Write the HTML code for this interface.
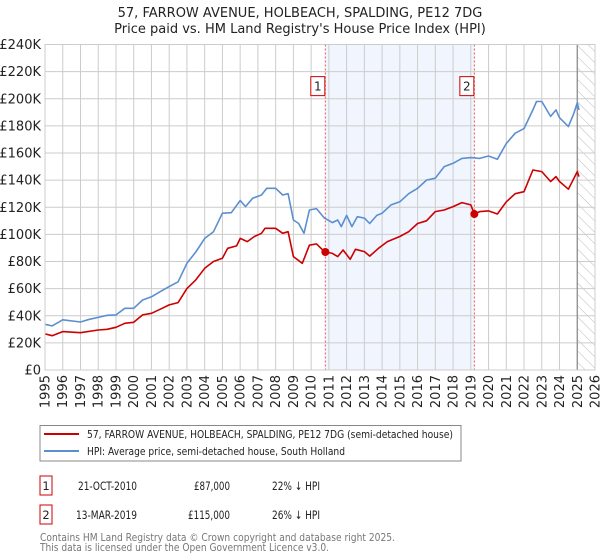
<!DOCTYPE html>
<html><head><meta charset="utf-8"><style>
body{margin:0;background:#fff;font-family:"DejaVu Sans","Liberation Sans",sans-serif;}
svg{display:block}
</style></head><body>
<svg width="600" height="560" viewBox="0 0 600 560" font-family="DejaVu Sans, Liberation Sans, sans-serif">
<g id="plot"></g>
<g id="axes"></g>
<text x="300" y="17" text-anchor="middle" font-size="13" fill="#222">57, FARROW AVENUE, HOLBEACH, SPALDING, PE12 7DG</text>
<text x="300" y="33" text-anchor="middle" font-size="13" fill="#222">Price paid vs. HM Land Registry's House Price Index (HPI)</text>
<g>
<rect x="40" y="425.5" width="421" height="35.5" fill="#fff" stroke="#888"/>
<line x1="44" y1="434" x2="79" y2="434" stroke="#cc0000" stroke-width="2"/>
<text x="87" y="438" font-size="11" fill="#222" textLength="366" lengthAdjust="spacingAndGlyphs">57, FARROW AVENUE, HOLBEACH, SPALDING, PE12 7DG (semi-detached house)</text>
<line x1="44" y1="451" x2="79" y2="451" stroke="#5b8fd0" stroke-width="2"/>
<text x="87" y="455" font-size="11" fill="#222" textLength="258" lengthAdjust="spacingAndGlyphs">HPI: Average price, semi-detached house, South Holland</text>
</g>
<g font-size="11.5" fill="#222">
<rect x="40" y="476" width="12" height="19" fill="#fff" stroke="#cc0000"/>
<text x="46" y="490" text-anchor="middle">1</text>
<text x="78" y="490" textLength="59" lengthAdjust="spacingAndGlyphs">21-OCT-2010</text>
<text x="194" y="490" textLength="36" lengthAdjust="spacingAndGlyphs">£87,000</text>
<text x="272" y="490" textLength="48" lengthAdjust="spacingAndGlyphs">22% ↓ HPI</text>
<rect x="40" y="505" width="12" height="19" fill="#fff" stroke="#cc0000"/>
<text x="46" y="519" text-anchor="middle">2</text>
<text x="76" y="519" textLength="61" lengthAdjust="spacingAndGlyphs">13-MAR-2019</text>
<text x="188" y="519" textLength="42" lengthAdjust="spacingAndGlyphs">£115,000</text>
<text x="272" y="519" textLength="48" lengthAdjust="spacingAndGlyphs">26% ↓ HPI</text>
</g>
<text x="40" y="541" font-size="11" fill="#777" textLength="355" lengthAdjust="spacingAndGlyphs">Contains HM Land Registry data © Crown copyright and database right 2025.</text>
<text x="40" y="551" font-size="11" fill="#777" textLength="289" lengthAdjust="spacingAndGlyphs">This data is licensed under the Open Government Licence v3.0.</text>
</svg>
<script>
const hpiYears=[1995.0,1995.4,1996.0,1997.0,1997.5,1998.0,1998.5,1999.0,1999.5,2000.0,2000.5,2001.0,2001.5,2002.0,2002.5,2003.0,2003.5,2004.0,2004.5,2005.0,2005.5,2006.0,2006.3,2006.7,2007.2,2007.5,2008.0,2008.4,2008.7,2009.0,2009.3,2009.6,2009.9,2010.3,2010.75,2011.2,2011.5,2011.7,2012.0,2012.3,2012.6,2013.0,2013.3,2013.7,2014.0,2014.5,2015.0,2015.5,2016.0,2016.5,2017.0,2017.5,2018.0,2018.5,2019.0,2019.5,2020.0,2020.5,2021.0,2021.5,2022.0,2022.5,2022.7,2023.0,2023.5,2023.8,2024.0,2024.5,2024.8,2025.0,2025.1];
const hpiValues=[33.7,32.5,37,35.4,37.4,38.8,40.3,40.6,45.5,45.5,51.6,54,57.8,61.5,65,78.7,87,97,102,115.6,116,125,120.5,126.6,129,134,134,129,130,110.6,108,100.8,118,119,112,108.7,110.6,105.7,114,105.7,113,112,108,114,115.6,121.7,124,130,134,140,141.4,150,152.4,156,156.6,156,157.8,155.4,167,174.6,178,191.8,198,198,187,191.8,186,179.5,189,197,191.8];
const priceYears=[1995.0,1995.4,1996.0,1997.0,1998.0,1998.5,1999.0,1999.5,2000.0,2000.5,2001.0,2001.5,2002.0,2002.5,2003.0,2003.5,2004.0,2004.5,2005.0,2005.3,2005.8,2006.0,2006.4,2006.8,2007.2,2007.4,2008.0,2008.4,2008.7,2009.0,2009.5,2009.9,2010.3,2010.75,2011.2,2011.5,2011.8,2012.2,2012.5,2013.0,2013.3,2013.8,2014.3,2015.0,2015.5,2016.0,2016.5,2017.0,2017.5,2018.0,2018.5,2019.0,2019.2,2019.5,2020.0,2020.5,2021.0,2021.5,2022.0,2022.5,2023.0,2023.5,2023.8,2024.0,2024.5,2025.0,2025.1];
const priceValues=[26.6,25.3,28.3,27.5,29.5,30,31.5,34.4,35.2,40.6,41.8,44.8,48,49.7,60,66.4,75,80,82.4,89.7,91.5,97,94.7,98.4,100.8,104.5,104.5,100.8,102,83.6,78.7,92,93,87.3,86,83.6,88.5,81.6,89,87.3,84,89.7,94.7,98.4,102,108,110,116.8,118,120.5,123.4,121.7,115,116.8,117.3,115,124,130,131.5,147.5,146.3,139,142.6,139,133.3,146.3,142.6];
const saleYears=[2010.8,2019.2];
const saleValues=[87,115];
const saleLabels=["1","2"];
const yTicks=[0,20,40,60,80,100,120,140,160,180,200,220,240];
const xTicks=[1995,1996,1997,1998,1999,2000,2001,2002,2003,2004,2005,2006,2007,2008,2009,2010,2011,2012,2013,2014,2015,2016,2017,2018,2019,2020,2021,2022,2023,2024,2025,2026];

const L=45,R=595,T=44.5,B=370,X0=1995,X1=2026,YMAX=240;
const xs=y=>L+(y-X0)/(X1-X0)*(R-L);
const ys=v=>B-v/YMAX*(B-T);
const NS="http://www.w3.org/2000/svg";
const plot=document.getElementById('plot'),axes=document.getElementById('axes');
function mk(tag,attrs,parent){const e=document.createElementNS(NS,tag);for(const k in attrs)e.setAttribute(k,attrs[k]);parent.appendChild(e);return e;}

let e=mk('rect',{x:xs(saleYears[0]),y:T,width:xs(saleYears[1])-xs(saleYears[0]),height:B-T,fill:'#eef3fc',opacity:0.8},plot);


const defs=mk('defs',{},plot);
const pat=mk('pattern',{id:'hatch',width:8,height:8,patternUnits:'userSpaceOnUse',patternTransform:'rotate(-45)'},defs);
mk('line',{x1:0,y1:0,x2:0,y2:8,stroke:'#bbb','stroke-width':1},pat);
e=mk('rect',{x:xs(2025.0),y:T,width:R-xs(2025.0),height:B-T,fill:'url(#hatch)'},plot);


yTicks.forEach(v=>{
  const g=mk('line',{x1:L,x2:R,y1:ys(v),y2:ys(v),stroke:'#ccc','stroke-width':1},plot);
  
  
  const t=mk('text',{x:L-4,y:ys(v)+4.5,'text-anchor':'end','font-size':13,fill:'#222'},axes);
  t.textContent=v===0?'£0':'£'+v+'K';
  
  
});
xTicks.forEach(y=>{
  const g=mk('line',{x1:xs(y),x2:xs(y),y1:T,y2:B,stroke:'#ccc','stroke-width':1},plot);
  
  
  const t=mk('text',{x:0,y:0,'text-anchor':'end','font-size':13,fill:'#222',transform:`translate(${xs(y)+4.5},${B+5}) rotate(-90)`},axes);
  t.textContent=y;
  
  
});
e=mk('line',{x1:xs(2025.0),x2:xs(2025.0),y1:T,y2:B,stroke:'#888','stroke-width':1.2},plot);


saleYears.forEach((y,i)=>{
  const l=mk('line',{x1:xs(y),x2:xs(y),y1:T,y2:B,stroke:'#e55','stroke-width':1,'stroke-dasharray':'2,2'},plot);
  
  
  const bx=xs(y)-11,by=ys(220)+5;
  const r=mk('rect',{x:bx-3.5,y:by,width:14,height:19,fill:'#fff',stroke:'#cc0000'},plot);
  
  
  const t=mk('text',{x:bx+3.5,y:by+14,'text-anchor':'middle','font-size':12,fill:'#222'},plot);
  t.textContent=saleLabels[i];
  
  
});
function line(xa,va,color,name){
  const p=mk('polyline',{points:xa.map((x,i)=>xs(x).toFixed(1)+','+ys(va[i]).toFixed(1)).join(' '),fill:'none',stroke:color,'stroke-width':1.6,'stroke-linejoin':'round'},plot);
  
  
}
line(hpiYears,hpiValues,'#5b8fd0','hpi-line');
line(priceYears,priceValues,'#cc0000','property-price-line');
saleYears.forEach((y,i)=>{
  const c=mk('circle',{cx:xs(y),cy:ys(saleValues[i]),r:4,fill:'#cc0000'},plot);
  
  
});
e=mk('rect',{x:L,y:T,width:R-L,height:B-T,fill:'none',stroke:'#ccc'},plot);


</script>
</body></html>
